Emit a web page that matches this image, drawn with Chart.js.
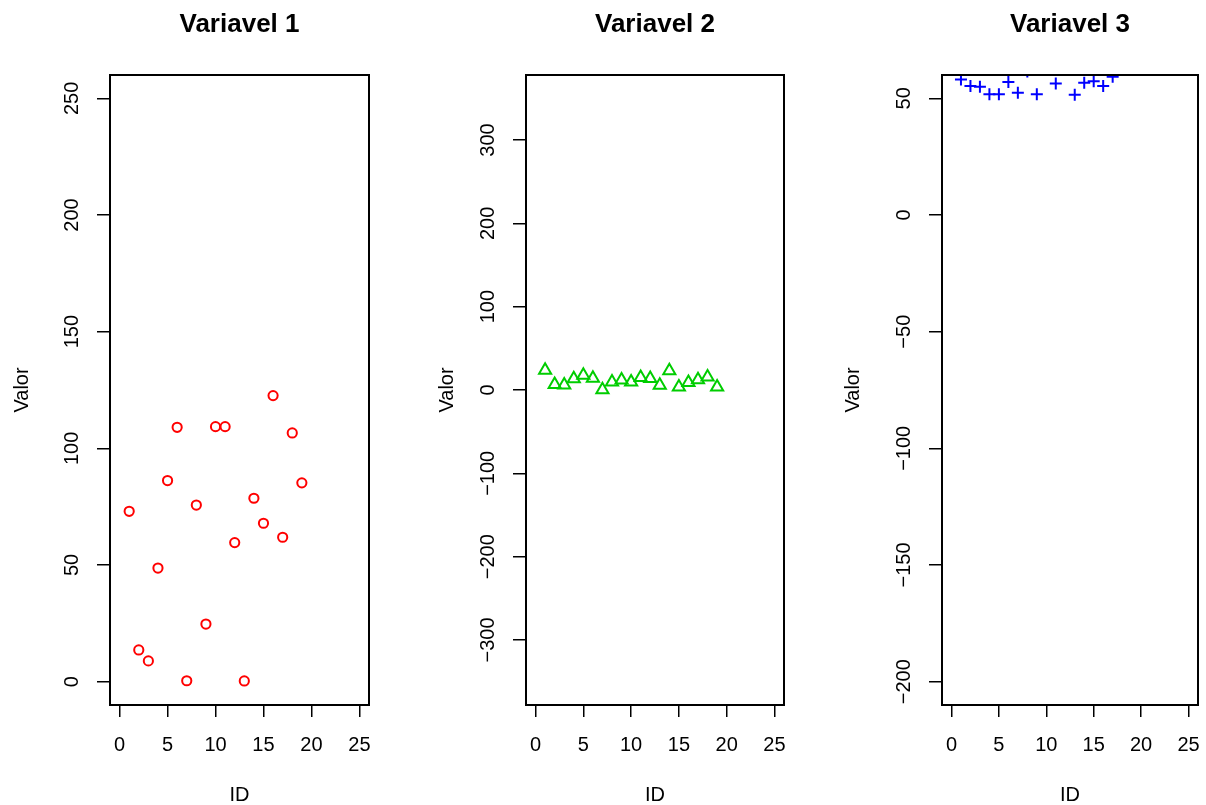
<!DOCTYPE html>
<html>
<head>
<meta charset="utf-8">
<script src="https://cdn.jsdelivr.net/npm/chart.js@4.4.0/dist/chart.umd.min.js"></script>
<style>
    body { margin: 0; background: #fff; }
    #wrap { position: relative; width: 1206px; height: 805px; overflow: hidden; }
    #wrap canvas { position: absolute; top: 0; }
</style>
</head>
<body>
<div id="wrap">
    <canvas id="c1" width="416" height="805" style="left:0px"></canvas>
    <canvas id="c2" width="416" height="805" style="left:416px"></canvas>
    <canvas id="c3" width="374" height="805" style="left:832px"></canvas>
</div>
<script>
// dados
const ids = [1, 2, 3, 4, 5, 6, 7, 8, 9, 10, 11, 12, 13, 14, 15, 16, 17, 18, 19];
const variavel1 = [73.0, 13.6, 8.9, 48.7, 86.2, 109.0, 0.4, 75.7, 24.7, 109.3, 109.3, 59.6, 0.3, 78.6, 67.9, 122.6, 61.9, 106.6, 85.2];
const variavel2 = [23.7, 6.7, 6.1, 13.5, 17.6, 14.2, 0.4, 9.6, 12.1, 9.7, 14.9, 13.7, 5.7, 23.2, 3.7, 8.9, 12.3, 15.7, 3.5];
// variavel 3: alguns pontos ficam acima do limite e sao cortados
const variavel3 = [58.1, 55.3, 55.0, 51.8, 51.8, 57.0, 52.4, 61.5, 51.8, 66.5, 56.4, 64.8, 51.5, 56.7, 57.3, 55.3, 59.3, 67.2, 65.1];

const xTicks = [0, 5, 10, 15, 20, 25];
const yTicks1 = [0, 50, 100, 150, 200, 250];
const yTicks2 = [-300, -200, -100, 0, 100, 200, 300];
const yTicks3 = [-200, -150, -100, -50, 0, 50];

const FONT = '"Liberation Sans", Arial, Helvetica, sans-serif';

// numero com sinal de menos tipografico
function fmt(v) {
    return v < 0 ? '\u2212' + Math.abs(v) : String(v);
}

// caixa, titulo e rotulos do eixo y (rodados como no R)
const rFrame = {
    id: 'rFrame',
    afterDraw(chart, args, opts) {
        const ctx = chart.ctx;
        const a = chart.chartArea;
        const y = chart.scales.y;
        ctx.save();
        ctx.strokeStyle = '#000';
        ctx.lineWidth = 2;
        ctx.strokeRect(a.left, a.top, a.right - a.left, a.bottom - a.top);

        ctx.fillStyle = '#000';
        ctx.textAlign = 'center';
        ctx.textBaseline = 'middle';
        ctx.font = 'bold 26px ' + FONT;
        ctx.fillText(opts.title, (a.left + a.right) / 2, 25);

        ctx.font = '20px ' + FONT;
        y.ticks.forEach(t => {
            const py = y.getPixelForValue(t.value);
            ctx.save();
            ctx.translate(a.left - 38, py);
            ctx.rotate(-Math.PI / 2);
            ctx.fillText(fmt(t.value), 0, 0);
            ctx.restore();
        });
        ctx.restore();
    }
};

function makePanel(id, title, values, yMin, yMax, yTicks, style, color, radius, rightPad, labelPad) {
    const ctx = document.getElementById(id).getContext('2d');
    return new Chart(ctx, {
        type: 'scatter',
        data: {
            datasets: [{
                data: ids.map((v, i) => ({ x: v, y: values[i] })),
                pointStyle: style,
                pointRadius: radius,
                pointHoverRadius: radius,
                pointBorderWidth: 2,
                pointBorderColor: color,
                pointBackgroundColor: 'rgba(0,0,0,0)',
                clip: 0
            }]
        },
        options: {
            responsive: false,
            animation: false,
            events: [],
            layout: { padding: { top: 75, right: rightPad, bottom: 0, left: 0 } },
            plugins: {
                legend: { display: false },
                tooltip: { enabled: false },
                rFrame: { title: title }
            },
            scales: {
                x: {
                    type: 'linear',
                    min: -1,
                    max: 26,
                    afterBuildTicks: s => { s.ticks = xTicks.map(v => ({ value: v })); },
                    afterFit: s => { s.height = 100; s.paddingLeft = 0; s.paddingRight = 0; },
                    border: { display: false },
                    grid: { drawOnChartArea: false, drawTicks: true, tickLength: 12, color: '#000', lineWidth: 1.5 },
                    ticks: {
                        autoSkip: false, maxRotation: 0, padding: 16, color: '#000',
                        font: { family: FONT, size: 20 },
                        callback: v => fmt(v)
                    },
                    title: {
                        display: true, text: 'ID', color: '#000',
                        font: { family: FONT, size: 20, lineHeight: 1 },
                        padding: { top: 0, bottom: 0 }
                    }
                },
                y: {
                    type: 'linear',
                    min: yMin,
                    max: yMax,
                    afterBuildTicks: s => { s.ticks = yTicks.map(v => ({ value: v })); },
                    afterFit: s => { s.width = 110; s.paddingTop = 0; s.paddingBottom = 0; },
                    border: { display: false },
                    grid: { drawOnChartArea: false, drawTicks: true, tickLength: 13, color: '#000', lineWidth: 1.5 },
                    ticks: { display: false },
                    title: {
                        display: true, text: 'Valor', color: '#000',
                        font: { family: FONT, size: 20, lineHeight: 1 },
                        padding: { top: labelPad, bottom: 0 }
                    }
                }
            }
        },
        plugins: [rFrame]
    });
}

makePanel('c1', 'Variavel 1', variavel1, -10, 260, yTicks1, 'circle', '#FF0000', 4.6, 47, 12);
makePanel('c2', 'Variavel 2', variavel2, -378, 378, yTicks2, 'triangle', '#00CD00', 7, 48, 21);
makePanel('c3', 'Variavel 3', variavel3, -210, 60, yTicks3, 'cross', '#0000FF', 6, 6, 11);
</script>
</body>
</html>
